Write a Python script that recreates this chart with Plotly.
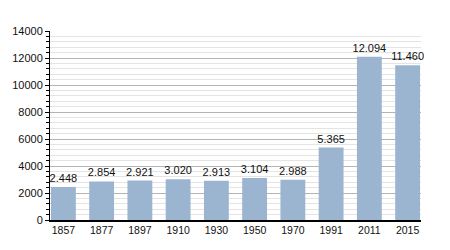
import plotly.graph_objects as go

years = ["1857", "1877", "1897", "1910", "1930", "1950", "1970", "1991", "2011", "2015"]
population = [2448, 2854, 2921, 3020, 2913, 3104, 2988, 5365, 12094, 11460]
y_ticks = [0, 2000, 4000, 6000, 8000, 10000, 12000, 14000]

fig = go.Figure(go.Bar(
    x=years, y=population,
    marker=dict(color="#9bb4d0", line=dict(width=0)),
    texttemplate="%{y:,}", textposition="outside",
    textfont=dict(family="Liberation Sans, Arial", size=11, color="#111"),
    constraintext="none",
    cliponaxis=False,
))

fig.update_layout(
    width=450, height=250,
    margin=dict(l=50, r=29, t=31, b=30),
    paper_bgcolor="white", plot_bgcolor="white",
    separators=",.",
    bargap=0.35,
    showlegend=False,
    font=dict(family="Liberation Sans, Arial", size=10, color="#111"),
)
fig.update_xaxes(
    type="category", range=[-0.35, 9.35],
    showline=True, linecolor="black", linewidth=1.5,
    ticks="", tickfont=dict(size=10.5),
    showgrid=False,
)
fig.update_yaxes(
    range=[0, 14000], tickvals=y_ticks, tickformat="d",
    showline=True, linecolor="black", linewidth=1,
    ticks="outside", ticklen=4, tickcolor="black",
    showgrid=True, gridcolor="#b4b4b4", gridwidth=1,
    zeroline=False,
    minor=dict(dtick=400, showgrid=True, gridcolor="#e4e4e4", ticks="outside", ticklen=3, tickcolor="black"),
    tickfont=dict(size=11),
)

fig.write_html("out.html")
